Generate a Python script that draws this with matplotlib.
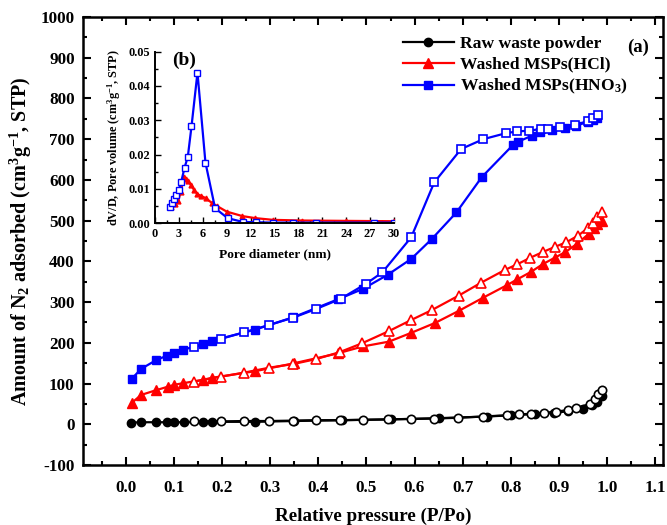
import matplotlib
matplotlib.use("Agg")
import matplotlib.pyplot as plt
from matplotlib.ticker import MultipleLocator, FormatStrFormatter

plt.rcParams['font.family'] = ['Liberation Serif', 'DejaVu Serif']
plt.rcParams['font.weight'] = 'bold'
plt.rcParams['mathtext.fontset'] = 'custom'
plt.rcParams['mathtext.rm'] = 'Liberation Serif:bold'
plt.rcParams['mathtext.it'] = 'Liberation Serif:bold'
plt.rcParams['mathtext.bf'] = 'Liberation Serif:bold'
plt.rcParams['mathtext.default'] = 'rm'
plt.rcParams['axes.unicode_minus'] = False

# --- isotherms (P/Po, cm3/g STP) ---
raw_ads_x = [0.01, 0.03, 0.063, 0.084, 0.10, 0.12, 0.159, 0.178, 0.267, 0.35, 0.45,
             0.55, 0.65, 0.75, 0.80, 0.85, 0.89, 0.92, 0.95, 0.97, 0.98, 0.99]
raw_ads_y = [4, 5, 5, 5, 5, 5, 5, 6, 6, 8, 10, 12, 15, 19, 22, 25, 28, 32, 38, 48, 55, 70]
raw_des_x = [0.142, 0.198, 0.246, 0.298, 0.348, 0.395, 0.444, 0.493, 0.544, 0.592,
             0.641, 0.691, 0.742, 0.792, 0.817, 0.843, 0.869, 0.894, 0.92, 0.937,
             0.965, 0.975, 0.982, 0.99]
raw_des_y = [7, 7, 8, 8, 9, 10, 10, 11, 12, 13, 14, 16, 19, 22, 24, 26, 28, 31, 35,
             40, 50, 62, 75, 85]

hcl_ads_x = [0.011, 0.031, 0.063, 0.086, 0.10, 0.119, 0.159, 0.178, 0.267, 0.35, 0.44,
             0.492, 0.547, 0.592, 0.643, 0.693, 0.743, 0.793, 0.814, 0.842, 0.868,
             0.892, 0.914, 0.938, 0.963, 0.973, 0.98, 0.99]
hcl_ads_y = [52, 72, 84, 92, 97, 101, 109, 114, 130, 150, 174, 191, 203, 224, 249,
             279, 311, 342, 356, 374, 394, 409, 423, 443, 468, 481, 492, 500]
hcl_des_x = [0.142, 0.198, 0.246, 0.298, 0.348, 0.395, 0.444, 0.491, 0.547, 0.593,
             0.637, 0.692, 0.739, 0.788, 0.814, 0.841, 0.867, 0.893, 0.916, 0.94,
             0.961, 0.971, 0.98, 0.99]
hcl_des_y = [105, 117, 127, 139, 148, 160, 177, 199, 229, 256, 281, 316, 348, 379,
             393, 409, 423, 436, 447, 463, 482, 495, 510, 520]

hno3_ads_x = [0.011, 0.031, 0.063, 0.084, 0.10, 0.119, 0.159, 0.178, 0.267, 0.348,
              0.441, 0.492, 0.544, 0.593, 0.636, 0.687, 0.74, 0.805, 0.816, 0.845,
              0.862, 0.887, 0.913, 0.935, 0.96, 0.972, 0.98]
hno3_ads_y = [111, 136, 158, 168, 174, 183, 197, 205, 232, 263, 307, 332, 367, 406,
              455, 520, 607, 686, 694, 709, 717, 723, 727, 733, 742, 748, 752]
hno3_des_x = [0.142, 0.198, 0.246, 0.298, 0.348, 0.395, 0.446, 0.499, 0.533, 0.593,
              0.641, 0.697, 0.743, 0.791, 0.814, 0.839, 0.863, 0.877, 0.903, 0.934,
              0.961, 0.971, 0.981]
hno3_des_y = [189, 210, 226, 244, 262, 283, 308, 345, 373, 459, 594, 676, 700, 715,
              719, 721, 725, 726, 730, 736, 744, 752, 760]

# --- pore size distribution (inset) ---
psd_hno3_d = [1.88, 2.13, 2.38, 2.67, 2.96, 3.29, 3.71, 4.12, 4.58, 5.33, 6.33, 7.54,
              9.12, 11.0, 12.67, 14.8, 17.3, 20.25, 27.5, 30.0]
psd_hno3_v = [0.0048, 0.0058, 0.0070, 0.0082, 0.0096, 0.0121, 0.0162, 0.0194, 0.0282,
              0.0439, 0.0177, 0.0044, 0.0015, 0.0004, 0.0003, 0.0002, 0.0002, 0.0002,
              0.0002, 0.0002]
psd_hcl_d = [2.0, 2.5, 2.9, 3.25, 3.6, 3.88, 4.17, 4.5, 4.9, 5.33, 5.75, 6.4, 7.2, 7.8,
             9.0, 10.96, 12.6, 14.8, 18.5, 24.0, 30.0]
psd_hcl_v = [0.0047, 0.0056, 0.0066, 0.0092, 0.0136, 0.0128, 0.0123, 0.0112, 0.0097,
             0.0085, 0.0080, 0.0073, 0.0058, 0.0050, 0.0034, 0.0021, 0.0015, 0.0010,
             0.0008, 0.0007, 0.0006]

fig = plt.figure(figsize=(6.67, 5.25), dpi=100)
ax = fig.add_axes([0.1244, 0.1143, 0.8696, 0.8533])

lw = 1.6
ms = 6
# adsorption = filled, desorption = open
ax.plot(raw_ads_x, raw_ads_y, '-o', color='black', lw=lw, ms=ms)
ax.plot(raw_des_x, raw_des_y, '-o', color='black', lw=lw, ms=ms, mfc='white', mew=1.2)
ax.plot(hcl_ads_x, hcl_ads_y, '-^', color='red', lw=lw, ms=ms + 1)
ax.plot(hcl_des_x, hcl_des_y, '-^', color='red', lw=lw, ms=ms + 1, mfc='white', mew=1.2)
ax.plot(hno3_ads_x, hno3_ads_y, '-s', color='blue', lw=lw, ms=ms)
ax.plot(hno3_des_x, hno3_des_y, '-s', color='blue', lw=lw, ms=ms, mfc='white', mew=1.2)

# legend handles
h1, = ax.plot([], [], '-o', color='black', lw=lw, ms=ms)
h2, = ax.plot([], [], '-^', color='red', lw=lw, ms=ms + 1)
h3, = ax.plot([], [], '-s', color='blue', lw=lw, ms=ms)
fig.legend([h1, h2, h3],
           ['Raw waste powder', 'Washed MSPs(HCl)', 'Washed MSPs(HNO$_3$)'],
           loc='upper left', bbox_to_anchor=(403 / 667, 1 - 36 / 525),
           frameon=False, fontsize=12.6, handlelength=2.9, handletextpad=0.35,
           labelspacing=0.25, borderpad=0, borderaxespad=0)

ax.set_xlim(-0.09, 1.117)
ax.set_ylim(-100, 1000)
ax.xaxis.set_major_locator(MultipleLocator(0.1))
ax.xaxis.set_minor_locator(MultipleLocator(0.05))
ax.xaxis.set_major_formatter(FormatStrFormatter('%.1f'))
ax.yaxis.set_major_locator(MultipleLocator(100))
ax.yaxis.set_minor_locator(MultipleLocator(50))
ax.tick_params(which='both', direction='in', top=True, right=True,
               labelsize=12.3, width=1.5)
ax.tick_params(axis='x', pad=11)
ax.tick_params(axis='y', pad=6)
ax.tick_params(which='major', length=6)
ax.tick_params(which='minor', length=3)
for s in ax.spines.values():
    s.set_linewidth(1.8)
ax.set_xlabel('Relative pressure (P/Po)', fontsize=13.8, fontweight='bold', labelpad=8)
ax.set_ylabel('Amount of N$_2$ adsorbed (cm$^3$g$^{-1}$, STP)', fontsize=14.5,
              fontweight='bold', labelpad=5)
fig.text(638 / 667, 1 - 47 / 525, '(a)', fontsize=13.5, fontweight='bold',
         ha='center', va='center')

# inset
ins = fig.add_axes([0.2324, 0.5747, 0.3583, 0.3269])
ins.patch.set_alpha(0)
ins.plot(psd_hcl_d, psd_hcl_v, '-^', color='red', lw=1.6, ms=3.5)
ins.plot(psd_hno3_d, psd_hno3_v, '-s', color='blue', lw=1.6, ms=4.5,
         mfc='white', mew=1.0)
ins.set_xlim(0, 30)
ins.set_ylim(0, 0.05)
ins.xaxis.set_major_locator(MultipleLocator(3))
ins.xaxis.set_minor_locator(MultipleLocator(1.5))
ins.yaxis.set_major_locator(MultipleLocator(0.01))
ins.yaxis.set_minor_locator(MultipleLocator(0.005))
ins.yaxis.set_major_formatter(FormatStrFormatter('%.2f'))
ins.spines['top'].set_visible(False)
ins.spines['right'].set_visible(False)
for s in ['left', 'bottom']:
    ins.spines[s].set_linewidth(1.4)
ins.tick_params(which='both', direction='in', labelsize=8.8, width=1.0)
ins.tick_params(which='major', length=4)
ins.tick_params(which='minor', length=2)
ins.set_xlabel('Pore diameter (nm)', fontsize=9.6, fontweight='bold', labelpad=6)
ins.set_ylabel('dV/D, Pore volume (cm$^3$g$^{-1}$, STP)', fontsize=8.8,
               fontweight='bold', labelpad=4)
ins.text(0.12, 0.95, '(b)', transform=ins.transAxes, fontsize=14,
         fontweight='bold', ha='center', va='center')

fig.savefig('out.png', dpi=100)
